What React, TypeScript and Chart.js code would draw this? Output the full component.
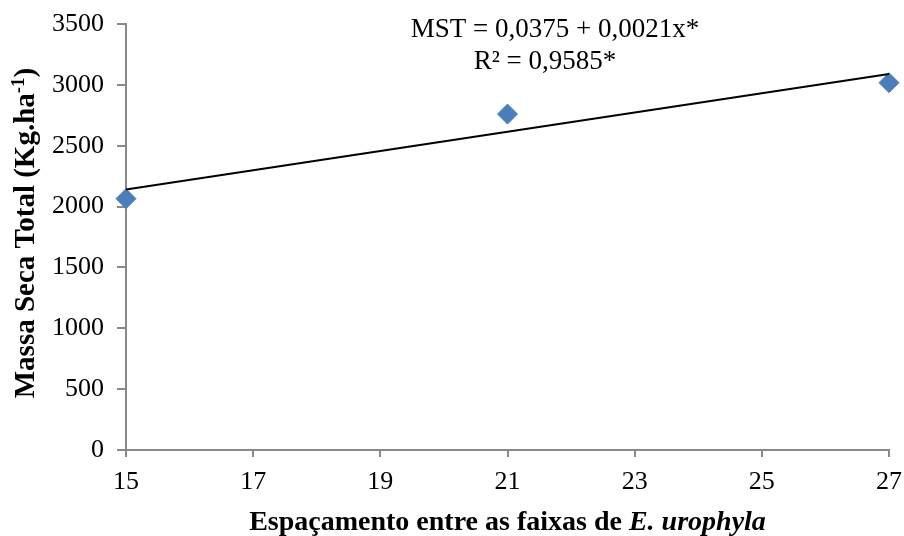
import React, { useEffect, useRef } from "react";
import { Chart, registerables } from "chart.js";

Chart.register(...registerables);

const spacing = [15, 21, 27];
const mst = [2065, 2760, 3018];
const trendX = [15, 27];
const trendY = [2140, 3090];
const xTicks = [15, 17, 19, 21, 23, 25, 27];
const yTicks = [0, 500, 1000, 1500, 2000, 2500, 3000, 3500];
const equation = "MST = 0,0375 + 0,0021x*";
const r2 = "R² = 0,9585*";

const FONT = "'Liberation Serif', 'Times New Roman', serif";

const titlesPlugin = {
  id: "titles",
  afterDraw(chart: any) {
    const ctx = chart.ctx as CanvasRenderingContext2D;
    const area = chart.chartArea;
    ctx.save();
    ctx.fillStyle = "#000";
    // annotation
    ctx.font = `27px ${FONT}`;
    ctx.textBaseline = "alphabetic";
    ctx.textAlign = "center";
    ctx.fillText(equation, 555, 37);
    ctx.fillText(r2, 545, 69);

    // x title with italic part
    const parts = [
      { t: "Espaçamento entre as faixas de ", f: `bold 28px ${FONT}` },
      { t: "E. urophyla", f: `italic bold 28px ${FONT}` },
    ];
    let total = 0;
    for (const p of parts) {
      ctx.font = p.f;
      total += ctx.measureText(p.t).width;
    }
    let x = (area.left + area.right) / 2 - total / 2;
    ctx.textAlign = "left";
    for (const p of parts) {
      ctx.font = p.f;
      ctx.fillText(p.t, x, 530);
      x += ctx.measureText(p.t).width;
    }

    // y title rotated
    ctx.translate(34, 233);
    ctx.rotate(-Math.PI / 2);
    const main = "Massa Seca Total (Kg.ha";
    const sup = "-1";
    const end = ")";
    const fMain = `bold 29px ${FONT}`;
    const fSup = `bold 19px ${FONT}`;
    ctx.font = fMain;
    const wMain = ctx.measureText(main).width;
    const wEnd = ctx.measureText(end).width;
    ctx.font = fSup;
    const wSup = ctx.measureText(sup).width;
    const tw = wMain + wSup + wEnd;
    let yx = -tw / 2;
    ctx.font = fMain;
    ctx.fillText(main, yx, 0);
    yx += wMain;
    ctx.font = fSup;
    ctx.fillText(sup, yx, -10);
    yx += wSup;
    ctx.font = fMain;
    ctx.fillText(end, yx, 0);
    ctx.restore();
  },
};

export default function App() {
  const ref = useRef<HTMLCanvasElement>(null);
  useEffect(() => {
    if (!ref.current) return;
    const chart = new Chart(ref.current, {
      type: "scatter",
      data: {
        datasets: [
          {
            type: "line",
            label: "Trend",
            data: trendX.map((x, i) => ({ x, y: trendY[i] })),
            borderColor: "#000",
            borderWidth: 2,
            pointRadius: 0,
            fill: false,
            clip: false,
          } as any,
          {
            label: "MST",
            data: spacing.map((x, i) => ({ x, y: mst[i] })),
            pointStyle: "rectRot",
            pointRadius: 10,
            pointBackgroundColor: "#4a7ebb",
            pointBorderColor: "#4a7ebb",
            pointBorderWidth: 1,
            clip: false,
          } as any,
        ],
      },
      options: {
        animation: false,
        responsive: false,
        maintainAspectRatio: false,
        layout: { padding: { top: 24, right: 15, left: 0, bottom: 0 } },
        plugins: {
          legend: { display: false },
          tooltip: { enabled: false },
        },
        scales: {
          x: {
            type: "linear",
            min: xTicks[0],
            max: xTicks[xTicks.length - 1],
            afterBuildTicks: (s: any) => {
              s.ticks = xTicks.map((v) => ({ value: v }));
            },
            afterFit: (s: any) => {
              s.height = 86;
              s.paddingLeft = 0;
              s.paddingRight = 0;
            },
            ticks: {
              font: { family: FONT, size: 26 },
              color: "#000",
              padding: 10,
              maxRotation: 0,
              callback: (v: any) => String(v),
            },
            grid: {
              drawOnChartArea: false,
              drawTicks: true,
              tickLength: 7,
              color: "#898989",
              lineWidth: 2,
            },
            border: { color: "#898989", width: 2 },
          },
          y: {
            type: "linear",
            min: yTicks[0],
            max: yTicks[yTicks.length - 1],
            afterBuildTicks: (s: any) => {
              s.ticks = yTicks.map((v) => ({ value: v }));
            },
            afterFit: (s: any) => {
              s.width = 126;
              s.paddingTop = 0;
              s.paddingBottom = 0;
            },
            ticks: {
              font: { family: FONT, size: 26 },
              color: "#000",
              padding: 13,
              callback: (v: any) => String(v),
            },
            grid: {
              drawOnChartArea: false,
              drawTicks: true,
              tickLength: 9,
              color: "#898989",
              lineWidth: 2,
            },
            border: { color: "#898989", width: 2 },
          },
        },
      },
      plugins: [titlesPlugin],
    });
    return () => chart.destroy();
  }, []);
  return (
    <div style={{ position: "fixed", left: 0, top: 0, width: 904, height: 536, background: "#fff" }}>
      <canvas ref={ref} width={904} height={536} style={{ width: 904, height: 536 }} />
    </div>
  );
}
